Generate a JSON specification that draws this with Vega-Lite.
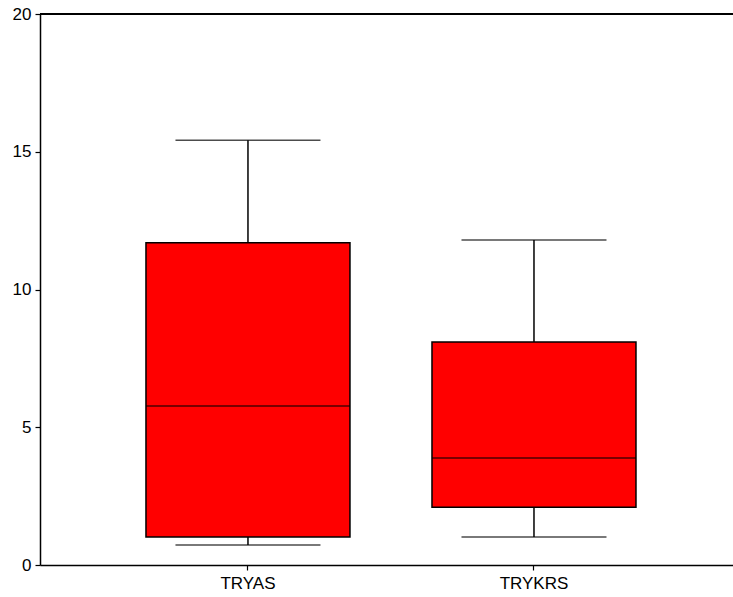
{
  "$schema": "https://vega.github.io/schema/vega-lite/v6.json",
  "width": 693,
  "height": 551,
  "autosize": "none",
  "padding": {"left": 40, "top": 14, "right": 0, "bottom": 32},
  "background": "white",
  "config": {
    "view": {"stroke": null},
    "font": "Liberation Sans",
    "axis": {"labelFont": "Liberation Sans", "labelColor": "black", "domainColor": "black", "tickColor": "black", "grid": false, "title": null}
  },
  "data": {
    "values": [
      {"var": "TRYAS", "lower": 0.73, "q1": 1.02, "median": 5.77, "q3": 11.7, "upper": 15.42},
      {"var": "TRYKRS", "lower": 1.02, "q1": 2.1, "median": 3.88, "q3": 8.09, "upper": 11.8}
    ]
  },
  "encoding": {
    "x": {
      "field": "var", "type": "nominal", "sort": ["TRYAS", "TRYKRS"],
      "scale": {"paddingInner": 0, "paddingOuter": 0.2115, "align": 0.537},
      "axis": {"labelAngle": 0, "labelFontSize": 17, "tickSize": 5, "labelPadding": 5, "domainWidth": 1.5, "tickWidth": 1.2}
    }
  },
  "layer": [
    {
      "mark": {"type": "rule", "color": "black", "strokeWidth": 1.5},
      "encoding": {
        "y": {"field": "lower", "type": "quantitative", "scale": {"domain": [0, 20]},
          "axis": {"values": [0, 5, 10, 15, 20], "labelFontSize": 17, "tickSize": 5, "labelPadding": 4, "domainWidth": 1.5, "tickWidth": 1.2}},
        "y2": {"field": "upper"}
      }
    },
    {
      "mark": {"type": "bar", "fill": "#ff0000", "stroke": "black", "strokeWidth": 1.5, "size": 204},
      "encoding": {
        "y": {"field": "q1", "type": "quantitative"},
        "y2": {"field": "q3"}
      }
    },
    {
      "mark": {"type": "tick", "color": "black", "size": 204, "thickness": 1.5},
      "encoding": {"y": {"field": "median", "type": "quantitative"}}
    },
    {
      "mark": {"type": "tick", "color": "black", "size": 145, "thickness": 1.5},
      "encoding": {"y": {"field": "upper", "type": "quantitative"}}
    },
    {
      "mark": {"type": "tick", "color": "black", "size": 145, "thickness": 1.5},
      "encoding": {"y": {"field": "lower", "type": "quantitative"}}
    },
    {
      "data": {"values": [{"top": 20}]},
      "mark": {"type": "rule", "color": "black", "strokeWidth": 2},
      "encoding": {"x": null, "y": {"field": "top", "type": "quantitative"}}
    }
  ]
}
